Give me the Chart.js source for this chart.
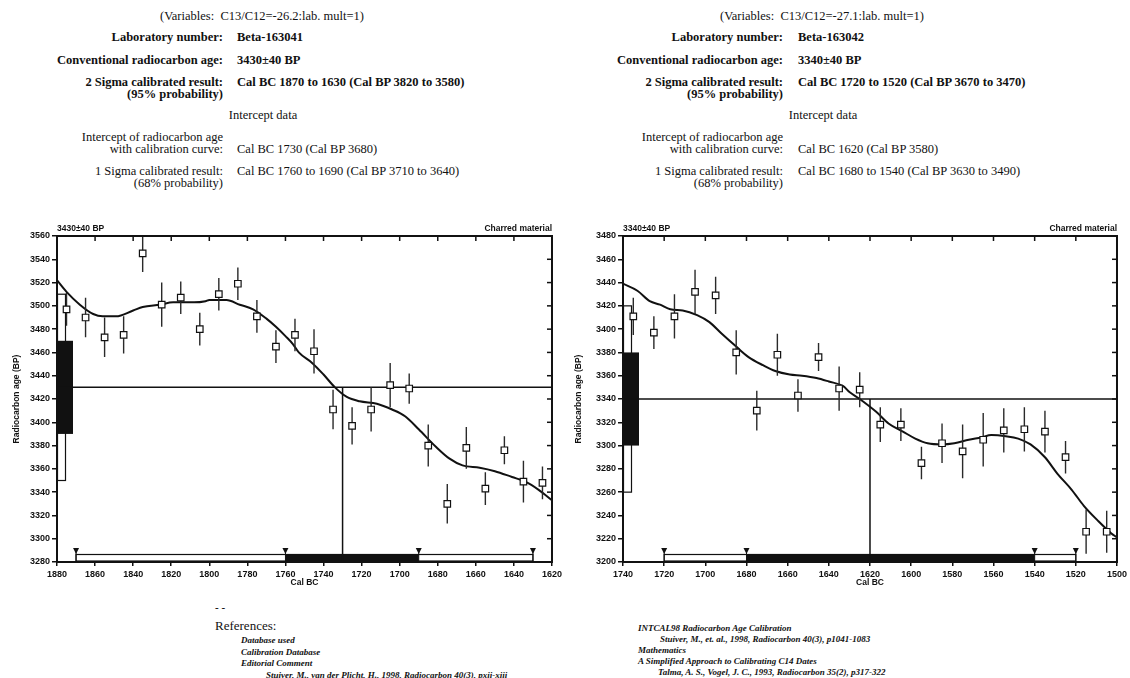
<!DOCTYPE html>
<html>
<head>
<meta charset="utf-8">
<title>Radiocarbon calibration – Beta-163041 / Beta-163042</title>
<script src="https://cdn.jsdelivr.net/npm/chart.js@4.4.1/dist/chart.umd.min.js"></script>
<style>
  html, body { margin: 0; padding: 0; background: #fff; }
  body { position: relative; width: 1130px; height: 678px; overflow: hidden;
         font-family: "Liberation Serif", "Times New Roman", serif; color: #111; }
  .t { position: absolute; white-space: nowrap; font-size: 12.5px; line-height: 14px; }
  .b { font-weight: bold; }
  .r { text-align: right; }
  .c { transform: translateX(-50%); }
  .refh { position: absolute; white-space: nowrap; font-size: 13px; line-height: 14px; }
  .ref { position: absolute; white-space: nowrap; font-size: 9px; line-height: 11px;
         font-weight: bold; font-style: italic; }
  canvas { position: absolute; top: 215px; }
</style>
</head>
<body>

<!-- Sample Beta-163041 summary -->
<div class="t c" style="left:262px;top:9px">(Variables:&nbsp; C13/C12=-26.2:lab. mult=1)</div>
<div class="t b r" style="right:907px;top:30px">Laboratory number:</div>
<div class="t b" style="left:237px;top:30px">Beta-163041</div>
<div class="t b r" style="right:907px;top:53px">Conventional radiocarbon age:</div>
<div class="t b" style="left:237px;top:53px">3430±40 BP</div>
<div class="t b r" style="right:907px;top:75px">2 Sigma calibrated result:</div>
<div class="t b" style="left:237px;top:75px">Cal BC 1870 to 1630 (Cal BP 3820 to 3580)</div>
<div class="t b r" style="right:907px;top:87px">(95% probability)</div>
<div class="t c" style="left:263px;top:108px">Intercept data</div>
<div class="t r" style="right:907px;top:130px">Intercept of radiocarbon age</div>
<div class="t r" style="right:907px;top:142px">with calibration curve:</div>
<div class="t" style="left:237px;top:142px">Cal BC 1730 (Cal BP 3680)</div>
<div class="t r" style="right:907px;top:164px">1 Sigma calibrated result:</div>
<div class="t" style="left:237px;top:164px">Cal BC 1760 to 1690 (Cal BP 3710 to 3640)</div>
<div class="t r" style="right:907px;top:176px">(68% probability)</div>

<!-- Sample Beta-163042 summary -->
<div class="t c" style="left:822px;top:9px">(Variables:&nbsp; C13/C12=-27.1:lab. mult=1)</div>
<div class="t b r" style="right:347px;top:30px">Laboratory number:</div>
<div class="t b" style="left:798px;top:30px">Beta-163042</div>
<div class="t b r" style="right:347px;top:53px">Conventional radiocarbon age:</div>
<div class="t b" style="left:798px;top:53px">3340±40 BP</div>
<div class="t b r" style="right:347px;top:75px">2 Sigma calibrated result:</div>
<div class="t b" style="left:798px;top:75px">Cal BC 1720 to 1520 (Cal BP 3670 to 3470)</div>
<div class="t b r" style="right:347px;top:87px">(95% probability)</div>
<div class="t c" style="left:823px;top:108px">Intercept data</div>
<div class="t r" style="right:347px;top:130px">Intercept of radiocarbon age</div>
<div class="t r" style="right:347px;top:142px">with calibration curve:</div>
<div class="t" style="left:798px;top:142px">Cal BC 1620 (Cal BP 3580)</div>
<div class="t r" style="right:347px;top:164px">1 Sigma calibrated result:</div>
<div class="t" style="left:798px;top:164px">Cal BC 1680 to 1540 (Cal BP 3630 to 3490)</div>
<div class="t r" style="right:347px;top:176px">(68% probability)</div>

<canvas id="chartA" width="565" height="380" style="left:0px"></canvas>
<canvas id="chartB" width="565" height="380" style="left:565px"></canvas>

<!-- References -->
<div class="refh b" style="left:215px;top:600px;font-size:11px">- -</div>
<div class="refh" style="left:215px;top:619px">References:</div>
<div class="ref" style="left:241px;top:635px">Database used</div>
<div class="ref" style="left:241px;top:647px">Calibration Database</div>
<div class="ref" style="left:241px;top:658px">Editorial Comment</div>
<div class="ref" style="left:266px;top:670px">Stuiver, M., van der Plicht, H., 1998, Radiocarbon 40(3), pxii-xiii</div>
<div class="ref" style="left:638px;top:623px">INTCAL98 Radiocarbon Age Calibration</div>
<div class="ref" style="left:660px;top:634px">Stuiver, M., et. al., 1998, Radiocarbon 40(3), p1041-1083</div>
<div class="ref" style="left:638px;top:645px">Mathematics</div>
<div class="ref" style="left:638px;top:656px">A Simplified Approach to Calibrating C14 Dates</div>
<div class="ref" style="left:658px;top:667px">Talma, A. S., Vogel, J. C., 1993, Radiocarbon 35(2), p317-322</div>

<script>
// ---------- Beta-163041 ----------
const sampleAgeA = 3430;
const sampleSigmaA = 40;
const interceptA = 1730;              // Cal BC
const oneSigmaA = [1760, 1690];       // Cal BC range, 68 %
const twoSigmaA = [1870, 1630];       // Cal BC range, 95 %
const calAxisA = [1880, 1620];        // Cal BC, left to right
const ageAxisA = [3280, 3560];        // BP, bottom to top

const curveYearsA = [1880, 1875, 1868, 1861, 1856, 1849, 1840, 1835, 1826, 1819, 1808, 1802, 1800,
                     1791, 1784, 1777, 1770, 1765, 1760, 1756, 1753, 1746, 1740, 1734, 1728, 1721,
                     1712, 1704, 1697, 1690, 1681, 1674, 1667, 1658, 1650, 1641, 1634, 1627, 1620];
const curveAgesA  = [3522, 3512, 3501, 3493, 3491, 3491, 3496, 3499, 3501, 3503, 3503, 3504, 3505,
                     3505, 3501, 3497, 3489, 3482, 3474, 3467, 3460, 3451, 3441, 3430, 3422, 3418,
                     3416, 3411, 3405, 3394, 3379, 3369, 3363, 3361, 3358, 3353, 3349, 3342, 3333];

const pointYearsA = [1875, 1865, 1855, 1845, 1835, 1825, 1815, 1805, 1795, 1785, 1775, 1765, 1755,
                     1745, 1735, 1725, 1715, 1705, 1695, 1685, 1675, 1665, 1655, 1645, 1635, 1625];
const pointAgesA  = [3497, 3490, 3473, 3475, 3545, 3501, 3507, 3480, 3510, 3519, 3491, 3465, 3475,
                     3461, 3411, 3397, 3411, 3432, 3429, 3380, 3330, 3378, 3343, 3376, 3349, 3348];
const pointErrsA  = [14, 17, 17, 16, 16, 19, 14, 14, 14, 14, 14, 14, 14,
                     19, 17, 16, 19, 19, 13, 18, 17, 18, 14, 12, 18, 14];

// ---------- Beta-163042 ----------
const sampleAgeB = 3340;
const sampleSigmaB = 40;
const interceptB = 1620;
const oneSigmaB = [1680, 1540];
const twoSigmaB = [1720, 1520];
const calAxisB = [1740, 1500];
const ageAxisB = [3200, 3480];

const curveYearsB = [1740, 1733, 1727, 1722, 1717, 1711, 1704, 1698, 1692, 1685, 1679, 1672, 1666,
                     1659, 1653, 1646, 1640, 1633, 1630, 1625, 1617, 1611, 1604, 1598, 1592, 1585,
                     1579, 1572, 1566, 1561, 1554, 1548, 1542, 1535, 1529, 1522, 1516, 1509, 1503, 1500];
const curveAgesB  = [3439, 3433, 3424, 3421, 3417, 3416, 3412, 3406, 3396, 3385, 3376, 3369, 3364,
                     3361, 3360, 3358, 3355, 3351, 3346, 3340, 3329, 3319, 3312, 3306, 3302, 3301,
                     3302, 3305, 3307, 3309, 3308, 3306, 3301, 3290, 3276, 3262, 3248, 3235, 3225, 3221];

const pointYearsB = [1735, 1725, 1715, 1705, 1695, 1685, 1675, 1665, 1655, 1645, 1635, 1625,
                     1615, 1605, 1595, 1585, 1575, 1565, 1555, 1545, 1535, 1525, 1515, 1505];
const pointAgesB  = [3411, 3397, 3411, 3432, 3429, 3380, 3330, 3378, 3343, 3376, 3349, 3348,
                     3318, 3318, 3285, 3302, 3295, 3305, 3313, 3314, 3312, 3290, 3226, 3226];
const pointErrsB  = [16, 14, 19, 19, 16, 19, 17, 18, 14, 12, 19, 15,
                     15, 14, 14, 17, 23, 23, 19, 19, 18, 14, 19, 18];

const materialLabel = 'Charred material';

// ---------- drawing ----------
const INK = '#111';
const SANS = '"Liberation Sans", Arial, sans-serif';

// Probability boxes, calibrated-range bars, frame and inner ticks
const calibrationMarks = {
  id: 'calibrationMarks',
  beforeDatasetsDraw(chart, args, opts) {
    const p = opts.panel;
    const { ctx, chartArea: a, scales: { x, y } } = chart;
    ctx.save();
    ctx.strokeStyle = INK;
    ctx.lineWidth = 1.2;

    // age distribution on the radiocarbon axis: 2 sigma (open) and 1 sigma (filled)
    const t2 = y.getPixelForValue(p.age + 2 * p.sigma);
    const b2 = y.getPixelForValue(p.age - 2 * p.sigma);
    ctx.fillStyle = '#fff';
    ctx.fillRect(a.left, t2, 8, b2 - t2);
    ctx.strokeRect(a.left + 0.5, t2, 8, b2 - t2);
    const t1 = y.getPixelForValue(p.age + p.sigma);
    const b1 = y.getPixelForValue(p.age - p.sigma);
    ctx.fillStyle = INK;
    ctx.fillRect(a.left, t1, 16, b1 - t1);

    // calibrated ranges along the calendar axis
    const barH = 8;
    const r2a = x.getPixelForValue(p.range2[0]);
    const r2b = x.getPixelForValue(p.range2[1]);
    ctx.fillStyle = '#fff';
    ctx.fillRect(r2a, a.bottom - barH, r2b - r2a, barH);
    ctx.strokeRect(r2a, a.bottom - barH + 0.5, r2b - r2a, barH - 1.5);
    const r1a = x.getPixelForValue(p.range1[0]);
    const r1b = x.getPixelForValue(p.range1[1]);
    ctx.fillStyle = INK;
    ctx.fillRect(r1a, a.bottom - barH, r1b - r1a, barH);

    // range end markers
    [...p.range2, ...p.range1].forEach(v => {
      const px = x.getPixelForValue(v);
      const top = a.bottom - barH;
      ctx.beginPath();
      ctx.moveTo(px - 3, top - 6);
      ctx.lineTo(px + 3, top - 6);
      ctx.lineTo(px, top);
      ctx.closePath();
      ctx.fill();
      ctx.beginPath();
      ctx.moveTo(px, top - 2);
      ctx.lineTo(px, a.bottom);
      ctx.lineWidth = 1;
      ctx.stroke();
    });
    ctx.restore();
  },
  afterDraw(chart, args, opts) {
    const p = opts.panel;
    const { ctx, chartArea: a, scales: { x, y } } = chart;
    ctx.save();
    ctx.strokeStyle = INK;

    // inward ticks on the top and right edges
    ctx.lineWidth = 1.5;
    x.ticks.forEach(t => {
      if (t.value === x.min || t.value === x.max) return;
      const px = x.getPixelForValue(t.value);
      ctx.beginPath(); ctx.moveTo(px, a.top); ctx.lineTo(px, a.top + 5); ctx.stroke();
    });
    y.ticks.forEach(t => {
      if (t.value === y.min || t.value === y.max) return;
      const py = y.getPixelForValue(t.value);
      ctx.beginPath(); ctx.moveTo(a.right - 5, py); ctx.lineTo(a.right, py); ctx.stroke();
    });

    // plot frame
    ctx.lineWidth = 2;
    ctx.strokeRect(a.left, a.top, a.right - a.left, a.bottom - a.top);

    // header line above the plot
    ctx.fillStyle = INK;
    ctx.font = 'bold 8.5px ' + SANS;
    ctx.textBaseline = 'middle';
    ctx.textAlign = 'left';
    ctx.fillText(p.age + '±' + p.sigma + ' BP', a.left, a.top - 7);
    ctx.textAlign = 'right';
    ctx.fillText(materialLabel, a.right, a.top - 7);
    ctx.restore();
  }
};

function makePanel(id, p) {
  const curve = p.curveYears.map((yr, i) => ({ x: yr, y: p.curveAges[i] }));
  const points = p.pointYears.map((yr, i) => ({ x: yr, y: p.pointAges[i] }));
  const bars = [];
  p.pointYears.forEach((yr, i) => {
    bars.push({ x: yr, y: p.pointAges[i] - p.pointErrs[i] });
    bars.push({ x: yr, y: p.pointAges[i] + p.pointErrs[i] });
    bars.push({ x: yr, y: null });
  });
  const [calLeft, calRight] = p.calAxis;
  const [ageMin, ageMax] = p.ageAxis;

  const tickFont = { family: SANS, size: 9, weight: 'bold' };
  const titleFont = { family: SANS, size: 8.5, weight: 'bold' };

  new Chart(document.getElementById(id), {
    type: 'scatter',
    data: {
      datasets: [
        { data: points, showLine: false, pointStyle: 'rect', pointRadius: 4.6,
          backgroundColor: '#fff', borderColor: INK, borderWidth: 1.2, order: 0 },
        { data: bars, showLine: true, spanGaps: false, pointRadius: 0,
          borderColor: '#2a2a2a', borderWidth: 1.4, order: 1 },
        { data: [{ x: calLeft, y: p.age }, { x: calRight, y: p.age }], showLine: true,
          pointRadius: 0, borderColor: INK, borderWidth: 1.5, order: 2 },
        { data: [{ x: p.intercept, y: p.age }, { x: p.intercept, y: ageMin }], showLine: true,
          pointRadius: 0, borderColor: INK, borderWidth: 1.5, order: 2 },
        { data: curve, showLine: true, pointRadius: 0, borderColor: INK, borderWidth: 2,
          cubicInterpolationMode: 'monotone', order: 3 }
      ]
    },
    options: {
      responsive: false,
      animation: false,
      devicePixelRatio: 1,
      events: [],
      layout: { padding: { left: 0, top: 21, right: 11, bottom: 0 } },
      plugins: {
        legend: { display: false },
        tooltip: { enabled: false },
        calibrationMarks: { panel: p }
      },
      scales: {
        x: {
          type: 'linear', position: 'bottom', reverse: true,
          min: Math.min(calLeft, calRight), max: Math.max(calLeft, calRight),
          afterFit: s => { s.height = 33; },
          border: { display: false },
          grid: { drawOnChartArea: false, drawTicks: true, tickLength: 4, color: INK, lineWidth: 1.5 },
          ticks: { stepSize: 20, autoSkip: false, maxRotation: 0, padding: 3, color: INK,
                   font: tickFont, callback: v => String(v) },
          title: { display: true, text: 'Cal BC', color: INK, font: titleFont,
                   padding: { top: 0, bottom: 7 } }
        },
        y: {
          type: 'linear', position: 'left', min: ageMin, max: ageMax,
          afterFit: s => { s.width = p.axisWidth; },
          border: { display: false },
          grid: { drawOnChartArea: false, drawTicks: true, tickLength: 5, color: INK, lineWidth: 1.5 },
          ticks: { stepSize: 20, autoSkip: false, padding: 2, color: INK,
                   font: tickFont, callback: v => String(v) },
          title: { display: true, text: 'Radiocarbon age (BP)', color: INK, font: titleFont,
                   padding: { top: p.titlePad, bottom: 0 } }
        }
      }
    },
    plugins: [calibrationMarks]
  });
}

makePanel('chartA', {
  age: sampleAgeA, sigma: sampleSigmaA, intercept: interceptA,
  range1: oneSigmaA, range2: twoSigmaA, calAxis: calAxisA, ageAxis: ageAxisA,
  curveYears: curveYearsA, curveAges: curveAgesA,
  pointYears: pointYearsA, pointAges: pointAgesA, pointErrs: pointErrsA,
  axisWidth: 57, titlePad: 12
});
makePanel('chartB', {
  age: sampleAgeB, sigma: sampleSigmaB, intercept: interceptB,
  range1: oneSigmaB, range2: twoSigmaB, calAxis: calAxisB, ageAxis: ageAxisB,
  curveYears: curveYearsB, curveAges: curveAgesB,
  pointYears: pointYearsB, pointAges: pointAgesB, pointErrs: pointErrsB,
  axisWidth: 58, titlePad: 9
});
</script>
</body>
</html>
